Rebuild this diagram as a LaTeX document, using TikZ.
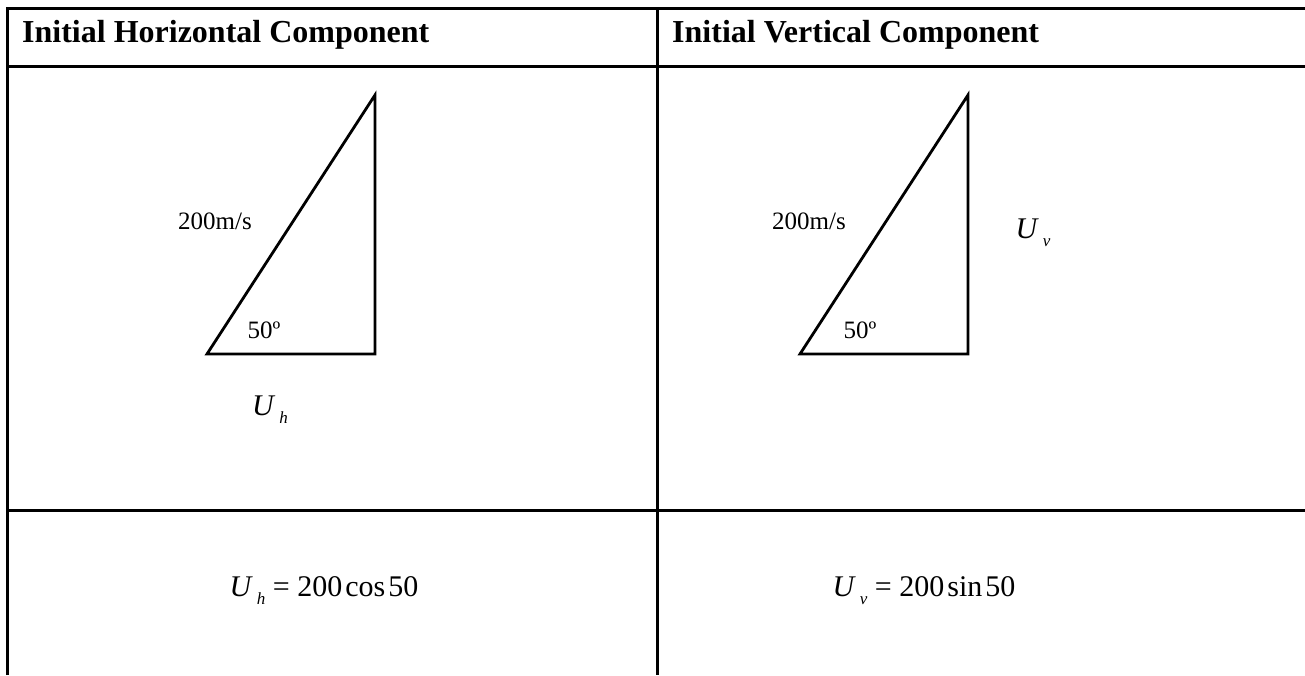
\documentclass[tikz,border=0pt]{standalone}
\usepackage{fontspec}
\setmainfont{Liberation Serif}

% italic U with a lowered subscript letter
\newcommand{\Usub}[1]{\textit{U}\kern4pt\raisebox{-8pt}{\fontsize{17}{17}\selectfont\textit{#1}}}

\begin{document}
\begin{tikzpicture}[x=1pt, y=-1pt]
  \tikzset{
    rule/.style={line width=3pt},
    tri/.style={line width=2.8pt, line join=miter},
    head/.style={anchor=base west, inner sep=0pt, font=\fontsize{32}{38}\selectfont\bfseries},
    lbl/.style={anchor=base, inner sep=0pt, font=\fontsize{25}{30}\selectfont},
    sym/.style={anchor=base, inner sep=0pt, font=\fontsize{30}{36}\selectfont}
  }
  \useasboundingbox (0,0) rectangle (1305,675);

  % Table rules (open at right and bottom)
  \draw[rule] (7,675) -- (7,8) -- (1305,8);
  \draw[rule] (7,66) -- (1305,66);
  \draw[rule] (7,510) -- (1305,510);
  \draw[rule] (657,8) -- (657,675);

  % Header row
  \node[head] (hdrH) at (22,42) {Initial Horizontal Component};
  \node[head] (hdrV) at (672,42) {Initial Vertical Component};

  % Velocity triangles
  \draw[tri] (207,354) -- (375,354) -- (375,95) -- cycle;
  \draw[tri] (800,354) -- (968,354) -- (968,95) -- cycle;

  % Triangle labels
  \node[lbl] (spdH) at (215,229) {200m/s};
  \node[lbl] (spdV) at (809,229) {200m/s};
  \node[lbl] (angH) at (264,338) {50º};
  \node[lbl] (angV) at (860,338) {50º};
  \node[sym] (uH) at (270,415) {\Usub{h}};
  \node[sym] (uV) at (1033,238) {\Usub{v}};

  % Component equations
  \node[sym] (eqH) at (324,596) {\Usub{h} = 200\kern3pt cos\kern3pt 50};
  \node[sym] (eqV) at (924,596) {\Usub{v} = 200\kern3pt sin\kern3pt 50};
\end{tikzpicture}
\end{document}
